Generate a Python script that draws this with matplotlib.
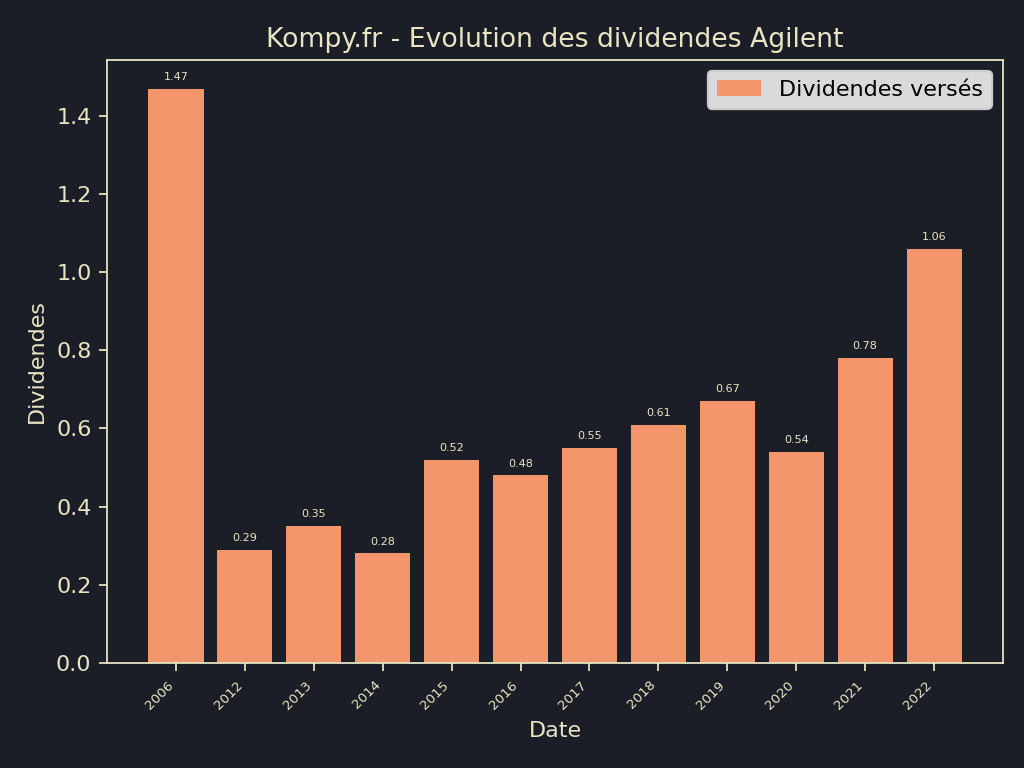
import matplotlib
matplotlib.use("Agg")
import matplotlib.pyplot as plt

# Dividend data
years = ["2006", "2012", "2013", "2014", "2015", "2016", "2017", "2018", "2019", "2020", "2021", "2022"]
dividends = [1.47, 0.29, 0.35, 0.28, 0.52, 0.48, 0.55, 0.61, 0.67, 0.54, 0.78, 1.06]

BG = "#1c1e27"
FG = "#e8e4c4"
BAR = "#f4966b"

fig, ax = plt.subplots(figsize=(6.4, 4.8), dpi=160)
fig.patch.set_facecolor(BG)
ax.set_facecolor(BG)

x = range(len(years))
bars = ax.bar(x, dividends, color=BAR, width=0.8, label="Dividendes versés")

for b, v in zip(bars, dividends):
    ax.annotate(f"{v:.2f}", (b.get_x() + b.get_width() / 2, v),
                xytext=(0, 3), textcoords="offset points",
                ha="center", va="bottom", fontsize=5, color=FG)

ax.set_xticks(list(x))
ax.set_xticklabels(years, rotation=45, fontsize=6, ha="right")
ax.set_xlim(-1, 12)

ax.set_title("Kompy.fr - Evolution des dividendes Agilent", color=FG, fontsize=12)
ax.set_xlabel("Date", color=FG, fontsize=10)
ax.set_ylabel("Dividendes", color=FG, fontsize=10)
ax.tick_params(colors=FG)
for s in ax.spines.values():
    s.set_color(FG)

leg = ax.legend(loc="upper right", facecolor="#dadada", framealpha=1.0, fontsize=10)
for t in leg.get_texts():
    t.set_color("black")

fig.subplots_adjust(left=0.1045, right=0.9795, top=0.922, bottom=0.137)
plt.savefig("out.png", dpi=160, facecolor=BG)
